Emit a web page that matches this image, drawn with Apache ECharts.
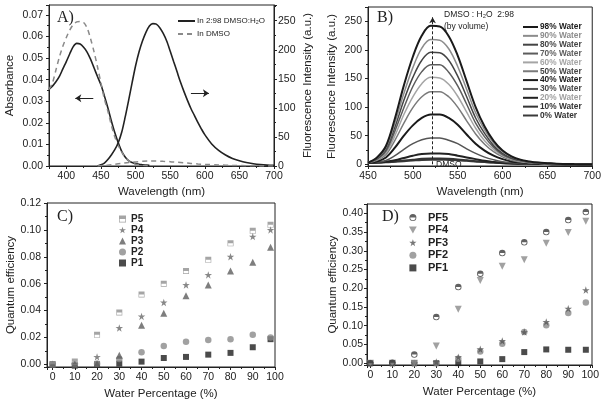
<!DOCTYPE html>
<html><head><meta charset="utf-8">
<script src="https://cdn.jsdelivr.net/npm/echarts@6/dist/echarts.min.js"></script>
<style>html,body{margin:0;padding:0;background:#fff}#c{width:604px;height:403px}</style>
</head><body><div id="c"></div><script>
// ---------- Panel A data ----------
const absWl = [375,380,385,390,395,400,405,410,415,420,425,430,435,440,445,450,455,460,465,470,475,480,485,490,495,500,505,510,515,520];
const absWater = [0.0355,0.037,0.039,0.0415,0.045,0.0484,0.052,0.0553,0.0568,0.0565,0.055,0.0528,0.0495,0.0455,0.0415,0.0376,0.0325,0.027,0.021,0.0155,0.0108,0.0068,0.0042,0.0025,0.0016,0.0011,0.0008,0.0006,0.0004,0.0003];
const absDmso = [0.0355,0.0385,0.0445,0.0505,0.0555,0.0595,0.063,0.0655,0.0668,0.067,0.0665,0.064,0.059,0.053,0.046,0.0385,0.031,0.0255,0.019,0.0135,0.0095,0.0065,0.004,0.0025,0.0015,0.0008,0.0005,0.0003,0.0002,0.0001];
const flWl = [445,450,455,460,465,470,475,480,485,490,495,500,505,510,515,520,525,530,535,540,545,550,555,560,565,570,575,580,585,590,595,600,610,620,630,640,650,660,670,680,690,700];
const flWater = [0,2,5,11,19,28,40,58,84,113,143,172,196,215,230,241,245,244,238,228,215,198,180,162,144,128,113,99,87,75,64,54,38,27,19,13,9,6,4,2.5,1.5,1];
const flDmsoWl = [445,450,460,470,480,490,500,510,520,530,540,550,560,570,580,590,600,620,640,660,680,700];
const flDmso = [0,0.5,1.5,3,4.5,6,7,8,8.5,8.5,8,7.5,6.5,5.5,4.5,3.5,2.8,1.8,1,0.5,0.2,0];
// ---------- Panel B data ----------
const bWl = [450,460,470,480,490,500,510,520,530,540,550,560,570,580,590,600,610,620,630,640,650,660,670,680,690,700];
const bNames = ['98% Water','90% Water','80% Water','70% Water','60% Water','50% Water','40% Water','30% Water','20% Water','10% Water','0% Water'];
const w98 = [3,12,32,80,138,188,225,242,241,224,190,145,100,66,41,24,14,8,5,3,2,1,0.6,0.3,0.2,0];
const w90 = [3,11,29,72,124,169,203,218,217,202,171,131,90,60,37,22,13,7,4.5,3,2,1,0.5,0.3,0.2,0];
const w80 = [3,10,26,65,112,152,182,196,195,182,154,118,81,54,33,19,11,6.5,4,2.5,1.6,0.8,0.5,0.2,0.1,0];
const w70 = [3,9,23,58,99,136,162,174,174,161,137,105,72,48,30,17,10,6,3.6,2.2,1.4,0.7,0.4,0.2,0.1,0];
const w60 = [3,8,20,50,87,118,141,152,151,140,119,91,63,41,26,15,9,5,3,1.9,1.3,0.6,0.4,0.2,0.1,0];
const w50 = [3,7,17,42,72,99,118,127,127,118,100,76,53,35,22,13,7,4.2,2.6,1.6,1,0.5,0.3,0.2,0.1,0];
const w40 = [3,5,12,29,50,68,81,87,87,81,69,52,36,24,15,9,5,3,1.8,1.1,0.7,0.4,0.2,0.1,0.1,0];
const w30 = [2.5,3.5,6.5,15,26,36,43,46,46,42,36,27,19,12.5,8,4.5,2.6,1.5,1,0.6,0.4,0.2,0.1,0.1,0,0];
const w20 = [2.5,3,4.5,7,11,15,18,19,19,18,15,12,9,6,4,2.5,1.5,1,0.6,0.4,0.3,0.2,0.1,0.1,0,0];
const w10 = [2.5,3,4,5,6.5,8,9.5,10,10,9.5,8.5,7,5.5,4,3,2,1.4,1,0.7,0.5,0.3,0.2,0.1,0.1,0,0];
const w00 = [2.5,3,3.5,4.5,5.5,6.5,7.5,8,8,7.5,7,6,5,4,3,2.2,1.6,1.1,0.8,0.5,0.3,0.2,0.1,0.1,0,0];
const bColors = ['#1a1a1a','#8c8c8c','#444444','#5c5c5c','#a5a5a5','#7a7a7a','#1a1a1a','#555555','#222222','#333333','#3a3a3a'];
const bTextColors = ['#1a1a1a','#8c8c8c','#444444','#5c5c5c','#a5a5a5','#444444','#1a1a1a','#444444','#a0a0a0','#333333','#333333'];
const bWidths = [2,1.5,1.5,1.5,1.5,1.5,2,1.5,2,2,2];
// ---------- Panel C / D data ----------
const water = [0,10,20,30,40,50,60,70,80,90,98];
const P5 = [0.000,0.002,0.022,0.0386,0.052,0.060,0.0695,0.0777,0.090,0.0993,0.1038];
const P4 = [0,0,0.0055,0.027,0.0356,0.046,0.059,0.0665,0.080,0.095,0.100];
const P3 = [0,0,0.0005,0.0068,0.029,0.038,0.051,0.059,0.0695,0.076,0.087];
const P2 = [0,0,0.0005,0.004,0.009,0.0137,0.0167,0.018,0.0187,0.022,0.020];
const P1 = [0,-0.001,0,0.0005,0.002,0.0047,0.0055,0.0072,0.0085,0.0127,0.0187];
const PF5 = [0,0.001,0.023,0.123,0.203,0.239,0.294,0.323,0.35,0.382,0.4036];
const PF4 = [0,0,0,0.0455,0.144,0.221,0.259,0.276,0.32,0.349,0.379];
const PF3 = [0,0,0,0.003,0.016,0.037,0.059,0.083,0.11,0.1455,0.195];
const PF2 = [0,0,0,0,0.0116,0.031,0.052,0.083,0.101,0.134,0.1616];
const PF1 = [0,0,0,0,0,0.0045,0.0107,0.0295,0.0366,0.0357,0.0357];

const FONT = 'Liberation Sans, Arial, sans-serif';
const SERIF = 'Liberation Serif, Times New Roman, serif';
const INK = '#222';
const zip = (xs, ys) => xs.map((x, i) => [x, ys[i]]);

const SYM = {
  square: 'path://M0,0H10V10H0Z',
  halfSquare: 'path://M0,0H10V10H0Z M1,5V9H9V5Z',
  star: 'path://M50,2 L61,36 L97,36 L68,57 L79,92 L50,70 L21,92 L32,57 L3,36 L39,36Z',
  halfCircle: 'path://M10,0A10,10 0 1,1 10,20A10,10 0 1,1 10,0Z M2.5,10A7.5,7.5 0 0,0 17.5,10Z',
  downTri: 'path://M0,0H10L5,9Z'
};

function axis(o) {
  const base = {
    type: 'value',
    nameLocation: 'middle',
    axisLine: {show: true, onZero: false, lineStyle: {color: INK, width: 1}},
    axisTick: {show: true, inside: false, length: 3, lineStyle: {color: INK}},
    minorTick: {show: true, splitNumber: 2, length: 2, lineStyle: {color: INK}},
    splitLine: {show: false},
    axisLabel: {color: INK, fontSize: 10.5, fontFamily: FONT, margin: 5, showMinLabel: true, showMaxLabel: true},
    nameTextStyle: {color: INK, fontSize: 11.5, fontFamily: FONT}
  };
  const out = Object.assign({}, base, o);
  out.axisLabel = Object.assign({}, base.axisLabel, o.axisLabel || {});
  return out;
}
const f2 = v => v.toFixed(2);

const grids = [
  {left: 49, top: 5, width: 225, height: 161},
  {left: 368, top: 7, width: 225, height: 159},
  {left: 47, top: 203, width: 228, height: 164},
  {left: 367, top: 204, width: 225, height: 161}
].map(g => Object.assign({show: true, borderColor: INK, borderWidth: 1, backgroundColor: 'transparent'}, g));

const xAxes = [
  axis({gridIndex: 0, min: 375, max: 700, splitNumber: 6, name: 'Wavelength (nm)', nameGap: 20, axisLabel: {showMinLabel: false}}),
  axis({gridIndex: 1, min: 450, max: 700, splitNumber: 5, name: 'Wavelength (nm)', nameGap: 20}),
  axis({gridIndex: 2, min: -2.5, max: 100, splitNumber: 10, name: 'Water Percentage (%)', nameGap: 21, axisLabel: {showMinLabel: false}}),
  axis({gridIndex: 3, min: -1.5, max: 100.8, splitNumber: 10, name: 'Water Percentage (%)', nameGap: 21, axisLabel: {showMinLabel: false, showMaxLabel: false}})
];
const yAxes = [
  axis({gridIndex: 0, min: 0, max: 0.0746, splitNumber: 7, name: 'Absorbance', nameGap: 33, axisLabel: {formatter: f2, showMaxLabel: false, margin: 6}}),
  axis({gridIndex: 0, position: 'right', min: 0, max: 277, splitNumber: 5, name: 'Fluorescence Intensity (a.u.)', nameGap: 28, axisLabel: {showMaxLabel: false, margin: 4}}),
  axis({gridIndex: 1, min: -3, max: 275, splitNumber: 5, name: 'Fluorescence Intensity (a.u.)', nameGap: 30, axisLabel: {showMinLabel: false, showMaxLabel: false, margin: 6}}),
  axis({gridIndex: 2, min: -0.002, max: 0.12, splitNumber: 6, name: 'Quantum efficiency', nameGap: 25, axisLabel: {formatter: f2, showMinLabel: false, margin: 6}}),
  axis({gridIndex: 3, min: -0.005, max: 0.425, splitNumber: 8, name: 'Quantum efficiency', nameGap: 24, axisLabel: {formatter: f2, showMinLabel: false, showMaxLabel: false, margin: 4}})
];

const series = [];
// Panel A
series.push({
  name: 'In 2:98 DMSO:H\u2082O', type: 'line', xAxisIndex: 0, yAxisIndex: 0, smooth: 0.3, symbol: 'none',
  data: zip(absWl, absWater), lineStyle: {color: INK, width: 1.6}, itemStyle: {color: INK},
  markLine: {silent: true, symbol: ['none', 'arrow'], symbolSize: [6, 6], label: {show: false},
    lineStyle: {color: INK, width: 1, type: 'solid'},
    data: [[{coord: [439, 0.0314]}, {coord: [413, 0.0314]}]]}
});
series.push({
  name: 'In DMSO', type: 'line', xAxisIndex: 0, yAxisIndex: 0, smooth: 0.3, symbol: 'none',
  data: zip(absWl, absDmso), lineStyle: {color: '#8a8a8a', width: 1.5, type: [5, 4]}, itemStyle: {color: '#8a8a8a'}
});
series.push({
  name: 'In 2:98 DMSO:H\u2082O', type: 'line', xAxisIndex: 0, yAxisIndex: 1, smooth: 0.3, symbol: 'none',
  data: zip(flWl, flWater), lineStyle: {color: INK, width: 1.6}, itemStyle: {color: INK},
  markLine: {silent: true, symbol: ['none', 'arrow'], symbolSize: [6, 6], label: {show: false},
    lineStyle: {color: INK, width: 1, type: 'solid'},
    data: [[{coord: [580, 125]}, {coord: [606, 125]}]]}
});
series.push({
  name: 'In DMSO', type: 'line', xAxisIndex: 0, yAxisIndex: 1, smooth: 0.3, symbol: 'none',
  data: zip(flDmsoWl, flDmso), lineStyle: {color: '#8a8a8a', width: 1.5, type: [5, 4]}, itemStyle: {color: '#8a8a8a'}
});
// Panel B
const bData = [w98, w90, w80, w70, w60, w50, w40, w30, w20, w10, w00];
bData.slice().reverse().forEach((arr, ri) => {
  const i = bData.length - 1 - ri;
  const s = {
    name: bNames[i], type: 'line', xAxisIndex: 1, yAxisIndex: 2, smooth: 0.35, symbol: 'none',
    data: zip(bWl, arr), lineStyle: {color: bColors[i], width: bWidths[i]}, itemStyle: {color: bColors[i]}
  };
  if (i === 0) {
    s.markLine = {silent: true, symbol: ['none', 'arrow'], symbolSize: [5, 6], label: {show: false},
      lineStyle: {color: INK, width: 1, type: [3, 2]},
      data: [[{coord: [522, 0]}, {coord: [522, 257]}]]};
  }
  series.push(s);
});
// Panel C
const cDefs = [
  ['P1', P1, SYM.square, '#1e1e1e', 6],
  ['P2', P2, 'circle', '#8a8a8a', 6.5],
  ['P3', P3, 'triangle', '#5e5e5e', 7],
  ['P4', P4, SYM.star, '#6a6a6a', 7.5],
  ['P5', P5, SYM.halfSquare, '#8f8f8f', 6]
];
cDefs.forEach(d => series.push({name: d[0], type: 'scatter', xAxisIndex: 2, yAxisIndex: 3, symbol: d[2], symbolSize: d[4],
  data: zip(water, d[1]), itemStyle: {color: d[3]}}));
// Panel D
const dDefs = [
  ['PF1', PF1, SYM.square, '#1e1e1e', 6],
  ['PF2', PF2, 'circle', '#8a8a8a', 6.5],
  ['PF3', PF3, SYM.star, '#555555', 7.5],
  ['PF4', PF4, SYM.downTri, '#8a8a8a', 7],
  ['PF5', PF5, SYM.halfCircle, '#3a3a3a', 6.5]
];
dDefs.forEach(d => series.push({name: d[0], type: 'scatter', xAxisIndex: 3, yAxisIndex: 4, symbol: d[2], symbolSize: d[4],
  data: zip(water, d[1]), itemStyle: {color: d[3]}}));

const legends = [
  {left: 177, top: 16, orient: 'vertical', itemWidth: 17, itemHeight: 8, itemGap: 3,
    itemStyle: {opacity: 0},
    textStyle: {fontSize: 8, fontFamily: FONT, color: INK, lineHeight: 10, padding: [0, 0, 0, -3]}, data: ['In 2:98 DMSO:H\u2082O', 'In DMSO']},
  {left: 522, top: 23, orient: 'vertical', itemWidth: 15, itemHeight: 6, itemGap: 0.85,
    itemStyle: {opacity: 0},
    textStyle: {fontSize: 8.3, fontFamily: FONT, fontWeight: 'bold', lineHeight: 8, padding: [0, 0, 0, -3]},
    data: bNames.map((n, i) => ({name: n, textStyle: {color: bTextColors[i]}}))},
  {left: 119, top: 214, orient: 'vertical', itemWidth: 7, itemHeight: 7, itemGap: 1,
    textStyle: {fontSize: 10, fontFamily: FONT, fontWeight: 'bold', color: INK, lineHeight: 10},
    data: ['P5', 'P4', 'P3', 'P2', 'P1']},
  {left: 409, top: 212, orient: 'vertical', itemWidth: 20, itemHeight: 7, itemGap: 1.6,
    textStyle: {fontSize: 11, fontFamily: FONT, fontWeight: 'bold', color: INK, lineHeight: 11},
    data: ['PF5', 'PF4', 'PF3', 'PF2', 'PF1']}
].map(l => Object.assign({selectedMode: false, padding: 0}, l));

const txt = (left, top, text, size, family, extra) => ({type: 'text', left, top,
  style: Object.assign({text, fontSize: size, fontFamily: family, fill: INK}, extra || {})});

const chart = echarts.init(document.getElementById('c'), null, {renderer: 'canvas'});
chart.setOption({
  animation: false,
  backgroundColor: '#fff',
  grid: grids,
  xAxis: xAxes,
  yAxis: yAxes,
  legend: legends,
  series: series,
  graphic: [
    txt(57, 10, 'A)', 16, SERIF),
    txt(377, 10, 'B)', 16, SERIF),
    txt(57, 209, 'C)', 16, SERIF),
    txt(382, 209, 'D)', 16, SERIF),
    txt(444, 10, 'DMSO : H\u2082O  2:98', 8.5, FONT),
    txt(444, 22, '(by volume)', 8.5, FONT),
    txt(436, 160, 'DMSO', 8.5, FONT)
  ]
});
</script></body></html>
